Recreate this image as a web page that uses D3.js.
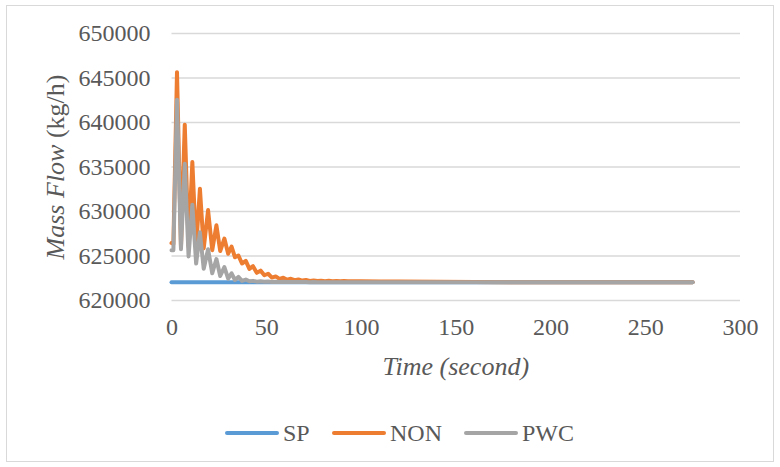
<!DOCTYPE html>
<html>
<head>
<meta charset="utf-8">
<script src="https://cdn.jsdelivr.net/npm/d3@7"></script>
<style>
  svg text, svg tspan { font-family: "Times New Roman" !important; }
</style>
</head>
<body style="margin:0">
<div class="chart"></div>
<script>
// time axis (seconds) shared by NON and PWC
var timeSec = [0, 1, 2.9, 5, 7, 9, 11, 13, 15, 17,
  19.3, 21.5, 23.7, 25.7, 27.9, 29.9, 31.7, 33.5, 35.3, 37.2,
  39.2, 41.1, 43, 45, 47, 49, 51, 53, 55, 57,
  59, 61, 63, 65, 67, 69, 71, 73, 75, 77,
  79, 81, 83, 85, 87, 89, 91, 93, 95, 100,
  110, 120, 140, 160, 200, 240, 275];

var nonFlow = [626400, 626300, 645600, 626000, 639700, 626000, 635500, 625900, 632500, 625800,
  630100, 625600, 628400, 625500, 626900, 625200, 626000, 624800, 625000, 624100,
  624400, 623500, 623800, 623050, 623300, 622780, 622950, 622520, 622650, 622380,
  622500, 622280, 622380, 622220, 622300, 622180, 622240, 622150, 622200, 622130,
  622170, 622120, 622150, 622110, 622140, 622100, 622130, 622100, 622120, 622110,
  622090, 622070, 622040, 622015, 622000, 622000, 622000];

var pwcFlow = [625600, 625600, 642500, 625700, 635300, 624900, 630700, 624100, 627600, 623500,
  625700, 623000, 624600, 622700, 623700, 622400, 623000, 622250, 622600, 622150,
  622300, 622100, 622150, 622060, 622100, 622040, 622070, 622030, 622050, 622020,
  622040, 622020, 622030, 622010, 622020, 622010, 622010, 622000, 622010, 622000,
  622000, 622000, 622000, 622000, 622000, 622000, 622000, 622000, 622000, 622000,
  622000, 622000, 622000, 622000, 622000, 622000, 622000];

var spTime = [0, 275];
var spFlow = [622000, 622000];

var seriesNames = ["SP", "NON", "PWC"];
var seriesColors = ["#5B9BD5", "#ED7D31", "#A5A5A5"];

var yTicks = [620000, 625000, 630000, 635000, 640000, 645000, 650000];
var xTicks = [0, 50, 100, 150, 200, 250, 300];

var svgWidth = 780;
var svgHeight = 467;

var margin = { top: 33, right: 40, bottom: 167, left: 171.5 };
var width = svgWidth - margin.left - margin.right;
var height = svgHeight - margin.top - margin.bottom;

var svg = d3.select(".chart")
  .append("svg")
  .attr("width", svgWidth)
  .attr("height", svgHeight);

// outer chart border
svg.append("rect")
  .attr("x", 6.5)
  .attr("y", 5.5)
  .attr("width", 767)
  .attr("height", 456)
  .attr("fill", "none")
  .attr("stroke", "#D9D9D9")
  .attr("stroke-width", 1);

var chartGroup = svg.append("g")
  .attr("transform", `translate(${margin.left}, ${margin.top})`);

var xScale = d3.scaleLinear().domain([0, 300]).range([0, width]);
var yScale = d3.scaleLinear().domain([620000, 650000]).range([height, 0]);

// gridlines
chartGroup.append("g")
  .call(d3.axisLeft(yScale).tickValues(yTicks).tickSize(-width).tickFormat(""))
  .call(g => g.select(".domain").remove())
  .call(g => g.selectAll("line").attr("stroke", "#D9D9D9").attr("stroke-width", 1.5));

// y tick labels
chartGroup.append("g")
  .call(d3.axisLeft(yScale).tickValues(yTicks).tickSize(0).tickPadding(21).tickFormat(d3.format("d")))
  .attr("font-family", "Times New Roman")
  .attr("font-size", 24)
  .call(g => g.select(".domain").remove())
  .call(g => g.selectAll("text").attr("fill", "#595959"));

// x tick labels
chartGroup.append("g")
  .attr("transform", `translate(0, ${height})`)
  .call(d3.axisBottom(xScale).tickValues(xTicks).tickSize(0).tickPadding(18))
  .attr("font-family", "Times New Roman")
  .attr("font-size", 24)
  .call(g => g.select(".domain").remove())
  .call(g => g.selectAll("text").attr("fill", "#595959"));

// lines
var line = d3.line()
  .x(d => xScale(d[0]))
  .y(d => yScale(d[1]));

var seriesData = [
  d3.zip(spTime, spFlow),
  d3.zip(timeSec, nonFlow),
  d3.zip(timeSec, pwcFlow)
];

chartGroup.selectAll(".series")
  .data(seriesData)
  .enter()
  .append("path")
  .attr("class", "series")
  .attr("d", line)
  .attr("fill", "none")
  .attr("stroke", (d, i) => seriesColors[i])
  .attr("stroke-width", 4)
  .attr("stroke-linejoin", "round")
  .attr("stroke-linecap", "round");

// axis titles
var yTitle = svg.append("text")
  .attr("transform", "translate(64, 167) rotate(-90)")
  .attr("text-anchor", "middle")
  .attr("font-family", "Times New Roman")
  .attr("font-size", 26)
  .attr("fill", "#595959");
yTitle.append("tspan").attr("font-style", "italic").text("Mass Flow");
yTitle.append("tspan").text(" (kg/h)");

svg.append("text")
  .attr("x", margin.left + width / 2)
  .attr("y", 375)
  .attr("text-anchor", "middle")
  .attr("font-family", "Times New Roman")
  .attr("font-size", 26)
  .attr("font-style", "italic")
  .attr("fill", "#595959")
  .text("Time (second)");

// legend
var legendX = [225, 332, 464];
var legend = svg.selectAll(".legend")
  .data(seriesNames)
  .enter()
  .append("g")
  .attr("class", "legend")
  .attr("transform", (d, i) => `translate(${legendX[i]}, 433)`);

legend.append("line")
  .attr("x1", 2).attr("x2", 52)
  .attr("y1", 0).attr("y2", 0)
  .attr("stroke", (d, i) => seriesColors[i])
  .attr("stroke-width", 4)
  .attr("stroke-linecap", "round");

legend.append("text")
  .attr("x", 58)
  .attr("y", 8)
  .attr("font-family", "Times New Roman")
  .attr("font-size", 24)
  .attr("fill", "#595959")
  .text(d => d);
</script>
</body>
</html>
